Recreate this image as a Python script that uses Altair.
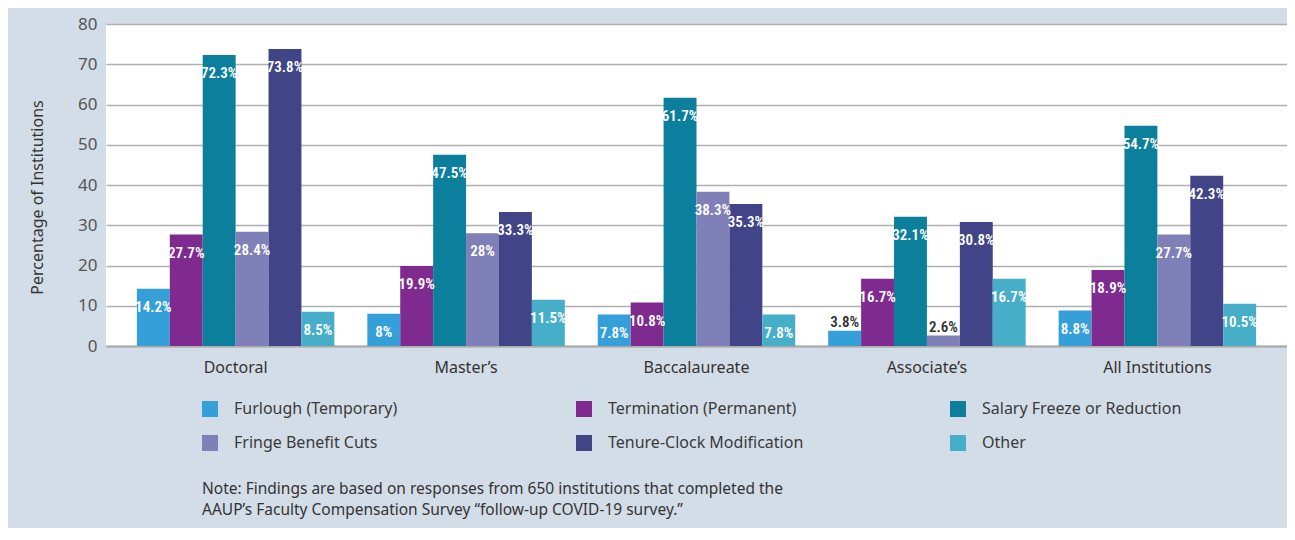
import altair as alt
import pandas as pd

GROUPS = ["Doctoral", "Master\u2019s", "Baccalaureate", "Associate\u2019s", "All Institutions"]
SERIES = [
    "Furlough (Temporary)",
    "Termination (Permanent)",
    "Salary Freeze or Reduction",
    "Fringe Benefit Cuts",
    "Tenure-Clock Modification",
    "Other",
]
COLORS = ["#359fd9", "#7e2a8f", "#0b7f9c", "#8080b8", "#414588", "#46aec9"]

furlough = [14.2, 8, 7.8, 3.8, 8.8]
termination = [27.7, 19.9, 10.8, 16.7, 18.9]
salary = [72.3, 47.5, 61.7, 32.1, 54.7]
fringe = [28.4, 28, 38.3, 2.6, 27.7]
tenure = [73.8, 33.3, 35.3, 30.8, 42.3]
other = [8.5, 11.5, 7.8, 16.7, 10.5]

NOTE = ("Note: Findings are based on responses from 650 institutions that completed the\n"
        "AAUP\u2019s Faculty Compensation Survey \u201cfollow-up COVID-19 survey.\u201d")

series_values = [furlough, termination, salary, fringe, tenure, other]
rows = []
for s, vals in zip(SERIES, series_values):
    for g, v in zip(GROUPS, vals):
        rows.append({"group": g, "series": s, "value": v, "label": f"{v:g}%"})
df = pd.DataFrame(rows)

LABEL_FONT = ("Noto Sans ExtraCondensed, Noto Sans Condensed, Roboto Condensed, "
              "DejaVu Sans Condensed, Liberation Sans Narrow, sans-serif")

x_enc = alt.X(
    "group:N",
    sort=GROUPS,
    scale=alt.Scale(paddingInner=0.143, paddingOuter=0.134),
    axis=alt.Axis(
        title=None, labelAngle=0, ticks=False, labelPadding=13,
        labelFontSize=16, labelColor="#333333", domain=True,
        domainColor="#aaaaaa", domainWidth=2, grid=False,
    ),
)
xo_enc = alt.XOffset("series:N", sort=SERIES, scale=alt.Scale(paddingInner=0, paddingOuter=0))
y_enc = alt.Y(
    "value:Q",
    scale=alt.Scale(domain=[0, 80], nice=False),
    axis=alt.Axis(
        title="Percentage of Institutions", values=list(range(0, 81, 10)),
        ticks=False, domain=False, labelPadding=9, labelFontSize=17,
        labelColor="#555555", titleFontSize=16, titleFontWeight="normal",
        titleColor="#333333", titleX=-69, titleY=173, titleBaseline="middle",
        gridColor="#b0b0b0", gridWidth=1.5,
    ),
)

base = alt.Chart(df)

bars = base.mark_bar().encode(
    x=x_enc,
    xOffset=xo_enc,
    y=y_enc,
    color=alt.Color(
        "series:N",
        sort=SERIES,
        scale=alt.Scale(domain=SERIES, range=COLORS),
        legend=alt.Legend(
            title=None, orient="none", legendX=96, legendY=377, columns=3,
            direction="horizontal",
            gridAlign="all", columnPadding=142, rowPadding=18, padding=0,
            symbolType="square", symbolSize=256, symbolStrokeWidth=0,
            symbolOpacity=1, labelFontSize=16, labelColor="#3a3a3a",
            labelOffset=16, labelFont="Noto Sans", labelLimit=400,
        ),
    ),
)

inside = base.transform_filter(alt.datum.value >= 5).mark_text(
    baseline="middle", dy=18, color="white", font=LABEL_FONT,
    fontWeight=600, fontSize=15,
).encode(x=x_enc, xOffset=xo_enc, y=y_enc, text="label:N")

outside = base.transform_filter(alt.datum.value < 5).mark_text(
    baseline="middle", dy=-9, color="#333333", font=LABEL_FONT,
    fontWeight=600, fontSize=15,
).encode(x=x_enc, xOffset=xo_enc, y=y_enc, text="label:N")

note = alt.Chart(pd.DataFrame({"note": [NOTE]})).mark_text(
    align="left", baseline="top", lineBreak="\n", lineHeight=21,
    fontSize=15.5, color="#333333", font="Noto Sans",
).encode(text="note:N", x=alt.value(96), y=alt.value(458))

chart = alt.layer(bars, inside, outside, note).properties(
    width=1181,
    height=322,
    padding={"left": 98, "top": 16, "right": 0, "bottom": 182},
    autosize=alt.AutoSizeParams(type="none"),
    background="#d3dde7",
).configure(font="Noto Sans").configure_view(stroke=None, fill="white")

chart.save("out.html", embed_options={"renderer": "svg", "actions": False})
